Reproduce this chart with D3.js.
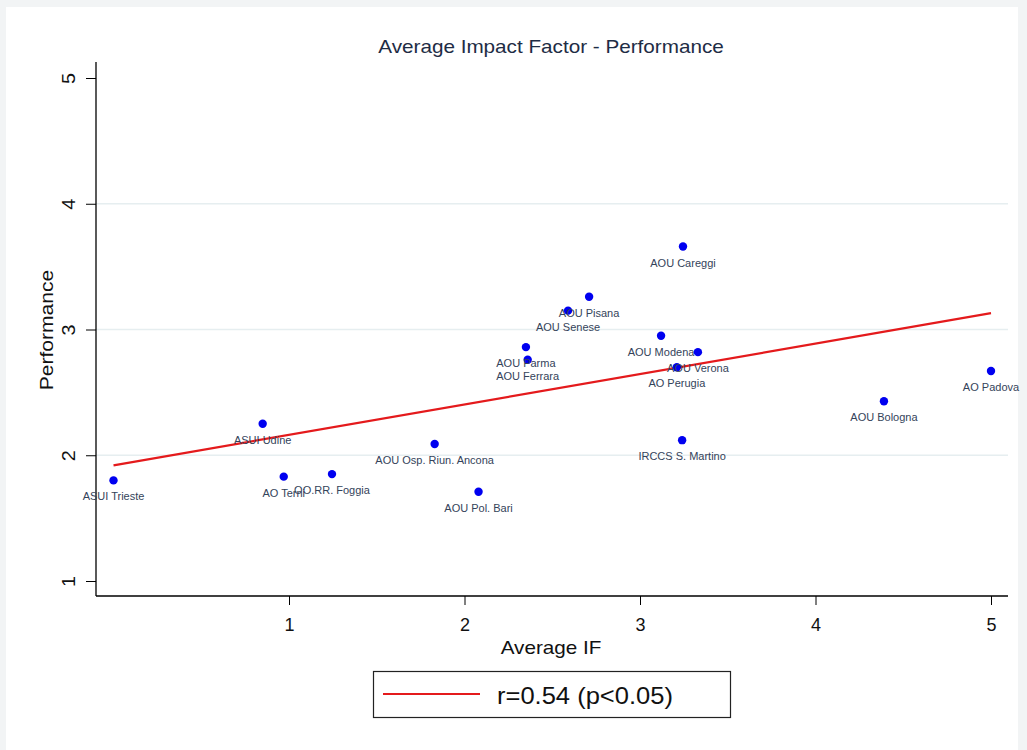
<!DOCTYPE html>
<html>
<head>
<meta charset="utf-8">
<script src="https://cdn.jsdelivr.net/npm/d3@7/dist/d3.min.js"></script>
<style>
body{margin:0;padding:0;background:#fff;}
svg{display:block;}
text{font-family:Arial,"Liberation Sans",sans-serif;}
</style>
</head>
<body>
<svg id="chart" width="1027" height="750"></svg>
<script>
const names = ["ASUI Trieste","ASUI Udine","AO Terni","OO.RR. Foggia","AOU Osp. Riun. Ancona","AOU Pol. Bari","AOU Parma","AOU Ferrara","AOU Senese","AOU Pisana","AOU Careggi","AOU Modena","AOU Verona","AO Perugia","IRCCS S. Martino","AOU Bologna","AO Padova"];
const avgIF = [0.00,0.85,0.97,1.245,1.83,2.08,2.35,2.36,2.59,2.71,3.245,3.12,3.33,3.21,3.24,4.39,5.00];
const performance = [1.80,2.25,1.83,1.85,2.09,1.71,2.86,2.76,3.15,3.26,3.66,2.95,2.82,2.70,2.12,2.43,2.67];
const fitX = [0.00,5.00];
const fitY = [1.92,3.13];
const xTicks = [1,2,3,4,5];
const yTicks = [1,2,3,4,5];
const gridTicks = [2,3,4];
const title = "Average Impact Factor - Performance";
const xTitle = "Average IF";
const yTitle = "Performance";
const legendLabel = "r=0.54 (p<0.05)";

(function(){
const svg = d3.select("#chart");
// faint outer frame
svg.append("rect").attr("x",0).attr("y",0).attr("width",1027).attr("height",750).attr("fill","#f2f4f5");
svg.append("rect").attr("x",6).attr("y",7).attr("width",1012).attr("height",743).attr("fill","#ffffff");

const x = d3.scaleLinear().domain([0,5]).range([113.5,991]);
const y = d3.scaleLinear().domain([1,5]).range([581,78]);
const pL = 96, pR = 1008, pT = 62, pB = 596;

// gridlines
svg.append("g").selectAll("line").data(gridTicks).join("line")
  .attr("x1",pL).attr("x2",pR)
  .attr("y1",d=>y(d)).attr("y2",d=>y(d))
  .attr("stroke","#e6eef0").attr("stroke-width",1.5);

// y axis
const yAxis = svg.append("g").attr("transform",`translate(${pL},0)`)
  .call(d3.axisLeft(y).tickValues(yTicks).tickSize(10).tickPadding(0).tickFormat(d3.format("d")));
yAxis.select(".domain").remove();
yAxis.selectAll(".tick line").attr("stroke","#000");
yAxis.selectAll(".tick text")
  .attr("transform","translate(-27,0) rotate(-90) scale(1.1,1)")
  .attr("x",0).attr("y",0).attr("dy","0.35em")
  .attr("text-anchor","middle")
  .attr("font-size",18).attr("fill","#111");
svg.append("line").attr("x1",pL).attr("x2",pL).attr("y1",pT).attr("y2",pB).attr("stroke","#000").attr("stroke-width",1.3);

// x axis
const xAxis = svg.append("g").attr("transform",`translate(0,${pB})`)
  .call(d3.axisBottom(x).tickValues(xTicks).tickSize(9).tickPadding(13).tickFormat(d3.format("d")));
xAxis.select(".domain").remove();
xAxis.selectAll(".tick line").attr("stroke","#000");
xAxis.selectAll(".tick text").attr("font-size",18).attr("fill","#111");
svg.append("line").attr("x1",pL).attr("x2",pR).attr("y1",pB).attr("y2",pB).attr("stroke","#000").attr("stroke-width",1.3);

// titles (slightly stretched horizontally as in the reference rendering)
svg.append("text").attr("transform","translate(551,53) scale(1.15,1)").attr("text-anchor","middle")
  .attr("font-size",18).attr("fill","#1e2c45").text(title);
svg.append("text").attr("transform","translate(551,654) scale(1.15,1)").attr("text-anchor","middle")
  .attr("font-size",18).attr("fill","#111").text(xTitle);
svg.append("text").attr("transform","translate(53,330) rotate(-90) scale(1.17,1)").attr("text-anchor","middle")
  .attr("font-size",18).attr("fill","#111").text(yTitle);

// fit line
const pts = fitX.map((v,i)=>[v,fitY[i]]);
svg.append("path").datum(pts)
  .attr("d",d3.line().x(d=>x(d[0])).y(d=>y(d[1])))
  .attr("stroke","#e41a1c").attr("stroke-width",2.2).attr("fill","none");

// points
const data = names.map((n,i)=>({n, x:avgIF[i], y:performance[i]}));
svg.append("g").selectAll("circle").data(data).join("circle")
  .attr("cx",d=>x(d.x)).attr("cy",d=>y(d.y)).attr("r",4.2).attr("fill","#0000f0");
svg.append("g").selectAll("text").data(data).join("text")
  .attr("x",d=>x(d.x)).attr("y",d=>y(d.y)+20)
  .attr("text-anchor","middle").attr("font-size",11).attr("fill","#34435a")
  .text(d=>d.n);

// legend
svg.append("rect").attr("x",373.5).attr("y",671.5).attr("width",357).attr("height",46)
  .attr("fill","#fff").attr("stroke","#222").attr("stroke-width",1.2);
svg.append("line").attr("x1",383).attr("x2",480).attr("y1",694).attr("y2",694)
  .attr("stroke","#e41a1c").attr("stroke-width",2);
svg.append("text").attr("transform","translate(497,704) scale(1.11,1)").attr("font-size",23).attr("fill","#111").text(legendLabel);
})();
</script>
</body>
</html>
